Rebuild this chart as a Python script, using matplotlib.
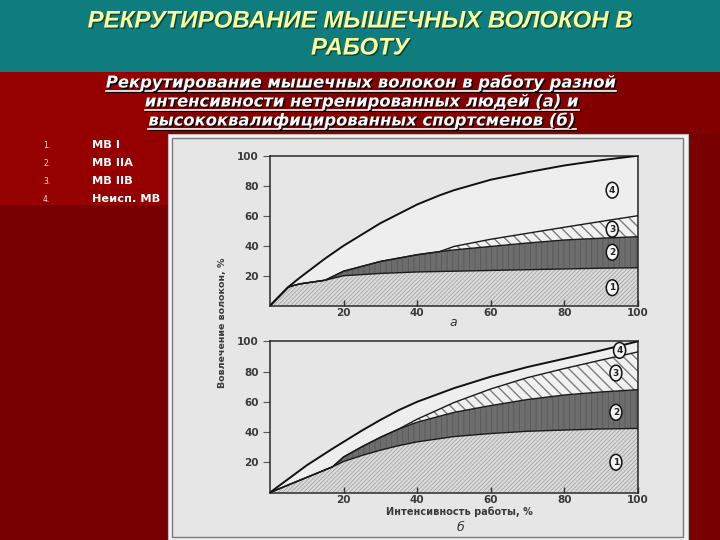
import matplotlib
matplotlib.use('Agg')
import matplotlib.pyplot as plt
from matplotlib.patches import Rectangle
from matplotlib.lines import Line2D
import matplotlib.patheffects as pe
import numpy as np

# ---------------- data ----------------
title_lines = ["РЕКРУТИРОВАНИЕ МЫШЕЧНЫХ ВОЛОКОН В", "РАБОТУ"]
subtitle_lines = ["Рекрутирование мышечных волокон в работу разной",
                  "интенсивности нетренированных людей (а) и",
                  "высококвалифицированных спортсменов (б)"]
list_numbers = ["1.", "2.", "3.", "4."]
list_items = ["МВ I", "МВ IIA", "МВ IIB", "Неисп. МВ"]

x_ticks = [20, 40, 60, 80, 100]
y_ticks = [20, 40, 60, 80, 100]
region_labels = ["1", "2", "3", "4"]

# chart (а) — untrained people
intensity_a = [0, 5, 8, 15, 20, 30, 40, 46, 50, 60, 70, 80, 90, 100]
mv1_a   = [0, 12.5, 14.5, 17.0, 20.0, 21.5, 22.5, 22.8, 23.0, 23.5, 24.0, 24.5, 25.0, 25.3]
mv2a_a  = [0, 12.5, 14.5, 17.0, 23.0, 29.5, 34.0, 36.0, 37.2, 39.5, 41.8, 43.8, 45.0, 46.0]
mv2b_a  = [0, 12.5, 14.5, 17.0, 23.0, 29.5, 34.0, 36.0, 39.5, 44.3, 48.3, 52.3, 56.2, 60.0]
total_a = [0, 12.5, 18.5, 31.5, 40.0, 55.0, 67.5, 73.5, 77.0, 84.0, 89.0, 93.5, 97.0, 100.0]
label_pos_a = [(93, 12), (93, 35.6), (93, 51), (93, 77)]

# chart (б) — elite athletes
intensity_b = [0, 5, 10, 17, 20, 25, 30, 35, 40, 50, 60, 70, 80, 90, 100]
mv1_b   = [0, 5, 10, 17, 20.5, 24.5, 28.0, 31.0, 33.5, 37.0, 39.0, 40.5, 41.3, 42.0, 42.4]
mv2a_b  = [0, 5, 10, 17, 23.5, 30.3, 36.5, 42.0, 46.5, 53.0, 57.5, 61.5, 64.5, 66.5, 68.0]
mv2b_b  = [0, 5, 10, 17, 23.5, 30.3, 36.5, 42.0, 48.5, 59.5, 68.5, 76.0, 82.0, 87.6, 93.0]
total_b = [0, 9, 18, 29, 33.5, 41.0, 48.0, 54.5, 60.0, 69.0, 76.6, 83.0, 88.5, 94.0, 100.0]
label_pos_b = [(94, 20), (94, 53), (94, 79), (95, 94)]

# ---------------- figure / slide ----------------
W, H = 720, 540
fig = plt.figure(figsize=(7.2, 5.4), dpi=100)
fig.patch.set_facecolor('#780000')


def fx(px):
    return px / W


def fy(py):
    return 1 - py / H


def rect(x0, y0, x1, y1, z, **kw):
    r = Rectangle((fx(x0), fy(y1)), fx(x1) - fx(x0), fy(y0) - fy(y1),
                  transform=fig.transFigure, figure=fig, zorder=z, **kw)
    fig.patches.append(r)
    return r


# backgrounds
rect(0, 0, 720, 72.5, -20, facecolor='#0f7d7e', lw=0)
rect(0, 72, 720, 134, -19, facecolor='#830000', lw=0)
rect(0, 72, 168, 205, -18, facecolor='#950000', lw=0)

# chart box (scanned picture)
rect(168, 134, 688, 540, -5, facecolor='#f3f3f3', edgecolor='#bdbdbd', lw=0.8)
rect(172, 138, 683, 537, -4, facecolor='#e6e6e6', edgecolor='#7a7a7a', lw=1.0)

renderer = fig.canvas.get_renderer()


def fit_text(x, y, s, width, size0, **kw):
    t = fig.text(fx(x), fy(y), s, fontsize=size0, **kw)
    w = t.get_window_extent(renderer).width
    t.set_fontsize(size0 * width / w)
    return t


# title
shadow = [pe.withSimplePatchShadow(offset=(1.0, -1.0), shadow_rgbFace='#003333', alpha=0.7)]
t1 = fit_text(360, 21, title_lines[0], 545, 17, ha='center', va='center',
              family='Liberation Sans', weight='bold', style='italic',
              color='#ffff99', path_effects=shadow)
fig.text(fx(360), fy(48), title_lines[1], fontsize=t1.get_fontsize(), ha='center',
         va='center', family='Liberation Sans', weight='bold', style='italic',
         color='#ffff99', path_effects=shadow)

# subtitle with underline
sub_shadow = [pe.withSimplePatchShadow(offset=(1, -1), shadow_rgbFace='black', alpha=0.9)]
base_y = [87.5, 106.5, 125.5]
s1 = fit_text(361, base_y[0], subtitle_lines[0], 508, 12, ha='center', va='baseline',
              family='DejaVu Sans', weight='bold', style='italic', color='white',
              path_effects=sub_shadow)
sub_texts = [s1]
for line, by in zip(subtitle_lines[1:], base_y[1:]):
    sub_texts.append(fig.text(fx(362), fy(by), line, fontsize=s1.get_fontsize(),
                              ha='center', va='baseline', family='DejaVu Sans',
                              weight='bold', style='italic', color='white',
                              path_effects=sub_shadow))
for t, by in zip(sub_texts, base_y):
    bb = t.get_window_extent(renderer)
    x0, x1 = bb.x0 / W, bb.x1 / W
    fig.add_artist(Line2D([x0 + 0.0015, x1 + 0.0015], [fy(by + 3.5) - 0.002] * 2,
                          transform=fig.transFigure, color='black', lw=1.2))
    fig.add_artist(Line2D([x0, x1], [fy(by + 3.5)] * 2,
                          transform=fig.transFigure, color='white', lw=1.2))

# numbered list (partly hidden behind the chart box)
for i, (n, item) in enumerate(zip(list_numbers, list_items)):
    yy = 145 + 18 * i
    fig.text(fx(43), fy(yy), n, fontsize=5.5, color='#ffdddd', va='center', ha='left',
             family='DejaVu Sans', zorder=-6)
    fig.text(fx(92), fy(yy), item, fontsize=8.2, color='white', va='center', ha='left',
             family='DejaVu Sans', weight='bold', zorder=-6)


# ---------------- the two charts ----------------
def make_axes(top, bottom, left=270, right=638):
    return fig.add_axes([fx(left), fy(bottom), fx(right) - fx(left), fy(top) - fy(bottom)])


def draw_chart(ax, x, c1, c2, c3, c4, label_pos):
    ax.set_facecolor('#e6e6e6')
    x = np.asarray(x, float)
    ax.fill_between(x, c3, c4, facecolor='#eeeeee', lw=0, zorder=1)
    p1 = ax.fill_between(x, 0, c1, facecolor='#dadada', edgecolor='#9c9c9c',
                         hatch='////////', lw=0, zorder=1)
    p2 = ax.fill_between(x, c1, c2, facecolor='#6d6d6d', edgecolor='#585858',
                         hatch='|||', lw=0, zorder=1)
    p3 = ax.fill_between(x, c2, c3, facecolor='#f1f1f1', edgecolor='#7c7c7c',
                         hatch='\\\\\\', lw=0, zorder=1)
    for p, hw in ((p1, 0.5), (p2, 0.6), (p3, 1.0)):
        if hasattr(p, 'set_hatch_linewidth'):
            p.set_hatch_linewidth(hw)
    ax.plot(x, c1, color='#1a1a1a', lw=1.0, zorder=3)
    ax.plot(x, c2, color='#1a1a1a', lw=1.0, zorder=3)
    ax.plot(x, c3, color='#1a1a1a', lw=1.0, zorder=3)
    ax.plot(x, c4, color='#111111', lw=1.4, zorder=3)
    ax.plot([x[-1], x[-1]], [0, c4[-1]], color='#222', lw=1.0, zorder=3)
    for lab, (lx, ly) in zip(region_labels, label_pos):
        ax.text(lx, ly, lab, fontsize=6.5, ha='center', va='center', weight='bold',
                color='#222', zorder=5,
                bbox=dict(boxstyle='ellipse,pad=0.12', fc='#f4f4f4', ec='#111', lw=1.1))
    ax.set_xlim(0, 100)
    ax.set_ylim(0, 100)
    ax.set_xticks(x_ticks)
    ax.set_yticks(y_ticks)
    ax.set_xticklabels([str(v) for v in x_ticks])
    ax.set_yticklabels([str(v) for v in y_ticks])
    ax.tick_params(axis='x', direction='in', length=4, width=1, pad=1.5, labelsize=7.5,
                   labelcolor='#3a3a3a', color='#333')
    ax.tick_params(axis='y', direction='out', length=5, width=0.8, pad=3, labelsize=7.5,
                   labelcolor='#3a3a3a', color='#555')
    for lab in ax.get_xticklabels() + ax.get_yticklabels():
        lab.set_fontweight('bold')
    for s in ax.spines.values():
        s.set_color('#2a2a2a')
        s.set_linewidth(1.1)


ax_a = make_axes(155.7, 305.7)
draw_chart(ax_a, intensity_a, mv1_a, mv2a_a, mv2b_a, total_a, label_pos_a)
ax_b = make_axes(341.3, 492.5)
draw_chart(ax_b, intensity_b, mv1_b, mv2a_b, mv2b_b, total_b, label_pos_b)

fig.text(fx(453), fy(323), 'а', fontsize=9, style='italic', color='#333',
         ha='center', va='center')
fig.text(fx(459), fy(511.5), 'Интенсивность работы, %', fontsize=7, color='#3a3a3a',
         ha='center', va='center', family='DejaVu Sans', weight='bold')
fig.text(fx(460), fy(527.5), 'б', fontsize=9, style='italic', color='#333',
         ha='center', va='center')
fig.text(fx(222), fy(323), 'Вовлечение волокон, %', fontsize=6.8, color='#3a3a3a',
         rotation=90, ha='center', va='center', weight='bold')

fig.savefig('out.png', dpi=100, facecolor=fig.get_facecolor())
